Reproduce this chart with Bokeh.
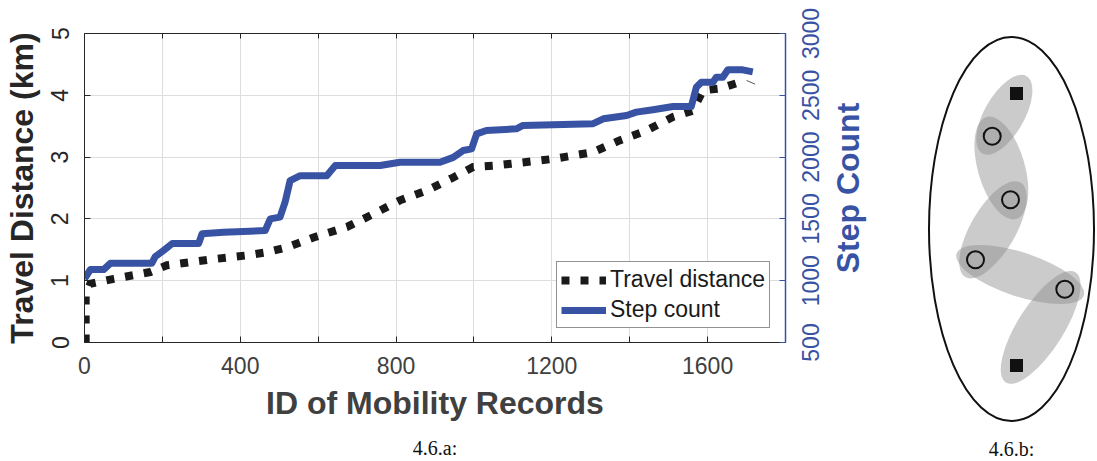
import math

from bokeh.core.properties import value
from bokeh.embed import file_html
from bokeh.layouts import column, row
from bokeh.models import (FixedTicker, Label, Legend, LegendItem, LinearAxis,
                          Range1d)
from bokeh.plotting import figure
from bokeh.resources import INLINE

# ---------------------------------------------------------------------------
# Cumulative travel distance (km) against the ID of the mobility record
dist_ids = [3, 3, 15, 75, 169, 212, 332, 417, 468, 520, 588, 674, 742, 810,
            879, 947, 998, 1050, 1203, 1306, 1374, 1443, 1511, 1562, 1588,
            1631, 1682, 1700]
dist_km = [0.0, 0.75, 0.95, 1.03, 1.14, 1.25, 1.35, 1.41, 1.46, 1.54, 1.70,
           1.87, 2.08, 2.30, 2.46, 2.67, 2.84, 2.86, 2.97, 3.08, 3.27, 3.43,
           3.65, 3.75, 4.08, 4.11, 4.21, 4.23]
# thin trailing piece of the distance trace
dist_tail_ids = [1700, 1722]
dist_tail_km = [4.24, 4.18]

# Cumulative step count against the ID of the mobility record
step_ids = [0, 15, 49, 67, 173, 182, 203, 225, 293, 302, 357, 464, 477, 502,
            515, 528, 554, 622, 644, 759, 810, 913, 947, 972, 994, 1007, 1032,
            1109, 1126, 1306, 1332, 1392, 1417, 1460, 1511, 1558, 1571, 1584,
            1614, 1622, 1639, 1652, 1690, 1716]
step_counts = [1015, 1090, 1090, 1142, 1142, 1196, 1244, 1300, 1300, 1380,
               1392, 1406, 1500, 1514, 1635, 1810, 1850, 1850, 1932, 1932,
               1958, 1958, 1998, 2053, 2067, 2188, 2215, 2229, 2256, 2270,
               2310, 2337, 2364, 2383, 2409, 2409, 2565, 2606, 2606, 2646,
               2646, 2706, 2706, 2690]

# Axes ticks
x_label_ticks = [0, 400, 800, 1200, 1600]
x_minor_ticks = [200, 600, 1000, 1400, 1800]
dist_ticks = [0, 1, 2, 3, 4, 5]
step_ticks = [500, 1000, 1500, 2000, 2500, 3000]
step_tick_labels = [str(v) for v in step_ticks]
step_title = "Step Count"

# Sketch on the right: stay points (circles) between two end points (squares)
node_x = [116.0, 91.7, 110.0, 75.0, 164.3, 116.0]
node_y = [368.0, 325.3, 261.7, 201.7, 172.3, 96.0]
node_kind = ["end", "stay", "stay", "stay", "stay", "end"]
link_width = [40, 47, 45, 44, 46]

FONT = "Liberation Sans"
SERIF = "Liberation Serif"
DARK = "#262626"
GREY = "#404040"
BLUE = "#3953a4"
TICK_PX = 23
TITLE_PX = 32

H = 461
CAPTION_H = 31
BORDER_TOP, BORDER_BOTTOM = 33, 119
FRAME_H = H - BORDER_TOP - BORDER_BOTTOM
BORDER_LEFT, BORDER_RIGHT = 84, 7
CHART_W = 792
STRIP_W = 900 - CHART_W

all_x_ticks = sorted(x_label_ticks + x_minor_ticks)


def blank_figure(width, height, x_range, y_range, **kw):
    f = figure(width=width, height=height, output_backend="svg",
               toolbar_location=None, x_range=x_range, y_range=y_range,
               x_axis_location=None, y_axis_location=None,
               outline_line_color=None, background_fill_color="white",
               border_fill_color="white", **kw)
    f.grid.visible = False
    return f


# ---------------------------------------------------------------------------
# main chart
p = figure(width=CHART_W, height=H - CAPTION_H, output_backend="svg",
           toolbar_location=None,
           x_range=Range1d(0, 1800), y_range=Range1d(0, 5),
           min_border_left=BORDER_LEFT, min_border_right=BORDER_RIGHT,
           min_border_top=BORDER_TOP,
           min_border_bottom=BORDER_BOTTOM - CAPTION_H,
           outline_line_color=None,
           background_fill_color="white", border_fill_color="white")
steps_range = Range1d(step_ticks[0], step_ticks[-1])
p.extra_y_ranges = {"steps": steps_range}

xa = p.xaxis[0]
xa.ticker = FixedTicker(ticks=x_label_ticks, minor_ticks=x_minor_ticks)
xa.major_tick_in = 6
xa.major_tick_out = 0
xa.minor_tick_in = 6
xa.minor_tick_out = 0
xa.axis_line_color = DARK
xa.major_tick_line_color = DARK
xa.minor_tick_line_color = DARK
xa.major_label_text_font = FONT
xa.major_label_text_font_size = f"{TICK_PX}px"
xa.major_label_text_color = GREY
xa.major_label_standoff = 14
xa.axis_label = "ID of Mobility Records"
xa.axis_label_text_font = FONT
xa.axis_label_text_font_size = f"{TITLE_PX}px"
xa.axis_label_text_font_style = "bold"
xa.axis_label_text_color = GREY
xa.axis_label_standoff = 8

ya = p.yaxis[0]
ya.ticker = FixedTicker(ticks=dist_ticks)
ya.minor_tick_line_color = None
ya.major_tick_in = 6
ya.major_tick_out = 0
ya.axis_line_color = DARK
ya.major_tick_line_color = DARK
ya.major_label_orientation = "vertical"
ya.major_label_text_font = FONT
ya.major_label_text_font_size = f"{TICK_PX}px"
ya.major_label_text_color = DARK
ya.major_label_standoff = 16
ya.axis_label = "Travel Distance (km)"
ya.axis_label_text_font = FONT
ya.axis_label_text_font_size = f"{TITLE_PX}px"
ya.axis_label_text_font_style = "bold"
ya.axis_label_text_color = DARK
ya.axis_label_standoff = 9

# top edge of the box, with inward ticks only
top = LinearAxis(ticker=FixedTicker(ticks=[], minor_ticks=all_x_ticks),
                 minor_tick_in=5, minor_tick_out=0, axis_line_color=DARK,
                 minor_tick_line_color=DARK, major_label_standoff=0)
p.add_layout(top, "above")

# right edge: blue axis line with inward ticks (labels drawn alongside)
ra = LinearAxis(y_range_name="steps",
                ticker=FixedTicker(ticks=[], minor_ticks=step_ticks),
                minor_tick_in=6, minor_tick_out=0, axis_line_color=BLUE,
                axis_line_width=1.5, minor_tick_line_color=BLUE,
                major_label_standoff=0)
p.add_layout(ra, "right")

p.xgrid.ticker = FixedTicker(ticks=all_x_ticks)
p.ygrid.ticker = FixedTicker(ticks=dist_ticks)
p.grid.grid_line_color = "#dddddd"
p.grid.grid_line_width = 1

r_dist = p.line(dist_ids, dist_km, line_color="#1a1a1a", line_width=8,
                line_dash="8 11", line_cap="butt", line_join="miter")
p.line(dist_tail_ids, dist_tail_km, line_color="#555555", line_width=1)
r_step = p.line(step_ids, step_counts, y_range_name="steps", line_color=BLUE,
                line_width=7, line_join="round")

legend = Legend(items=[LegendItem(label="Travel distance", renderers=[r_dist]),
                       LegendItem(label="Step count", renderers=[r_step])],
                location=(472, 14), orientation="vertical",
                label_text_font=FONT, label_text_font_size=f"{TICK_PX}px",
                label_text_color="#1a1a1a", glyph_width=45, glyph_height=26,
                label_height=26, label_standoff=4, spacing=3, padding=4,
                margin=0, border_line_color=DARK, border_line_width=1.5,
                background_fill_color="white", background_fill_alpha=1.0)
p.add_layout(legend, "center")

# caption under the chart
pc = blank_figure(CHART_W, CAPTION_H, Range1d(0, 1), Range1d(0, CAPTION_H),
                  min_border_left=BORDER_LEFT, min_border_right=BORDER_RIGHT,
                  min_border_top=0, min_border_bottom=0)
pc.add_layout(Label(x=0.5, y=CAPTION_H - 17.5, text="4.6.a:",
                    text_align="center", text_baseline="middle",
                    text_font=SERIF, text_font_size="20px",
                    text_color="#111111"))

# ---------------------------------------------------------------------------
# strip to the right of the chart: step-count tick labels and axis title,
# read bottom-to-top, on a scale that lines up with the "steps" range
px_per_step = FRAME_H / (steps_range.end - steps_range.start)
strip_range = Range1d(steps_range.start - BORDER_BOTTOM / px_per_step,
                      steps_range.end + BORDER_TOP / px_per_step)
pr = blank_figure(STRIP_W, H, Range1d(0, STRIP_W), strip_range, min_border=0)
label_mid = 809.5 - CHART_W      # centre line of the tick labels
title_mid = 847.5 - CHART_W      # centre line of the axis title
pr.text(x=[label_mid] * len(step_ticks), y=step_ticks, text=step_tick_labels,
        angle=math.pi / 2, text_align="center", text_baseline="alphabetic",
        text_font=value(FONT), text_font_size=f"{TICK_PX}px",
        text_color=BLUE)
pr.text(x=[title_mid], y=[(step_ticks[0] + step_ticks[-1]) / 2],
        text=[step_title], angle=math.pi / 2, text_align="center",
        text_baseline="alphabetic", text_font=value(FONT),
        text_font_size=f"{TITLE_PX}px", text_font_style="bold",
        text_color=BLUE)

# ---------------------------------------------------------------------------
# sketch of the stay points
p2 = blank_figure(197, H, Range1d(0, 197), Range1d(0, H), min_border=0)

# overall region
p2.ellipse(x=[111], y=[232.5], width=[165], height=[384], fill_color=None,
           line_color="#111111", line_width=2)

# shaded links between consecutive points
lx, ly, lw, lh, la = [], [], [], [], []
for i in range(len(node_x) - 1):
    dx = node_x[i + 1] - node_x[i]
    dy = node_y[i + 1] - node_y[i]
    lx.append((node_x[i] + node_x[i + 1]) / 2)
    ly.append((node_y[i] + node_y[i + 1]) / 2)
    lw.append(math.hypot(dx, dy) + 40)
    lh.append(link_width[i])
    la.append(math.atan2(dy, dx))
p2.ellipse(x=lx, y=ly, width=lw, height=lh, angle=la, fill_color="#8c8c8c",
           fill_alpha=0.45, line_color=None)

stay = [i for i, k in enumerate(node_kind) if k == "stay"]
ends = [i for i, k in enumerate(node_kind) if k == "end"]
p2.scatter([node_x[i] for i in stay], [node_y[i] for i in stay],
           marker="circle", size=17, fill_color=None, line_color="#111111",
           line_width=2)
p2.scatter([node_x[i] for i in ends], [node_y[i] for i in ends],
           marker="square", size=13, fill_color="#111111", line_color=None)

p2.add_layout(Label(x=111, y=13, text="4.6.b:", text_align="center",
                    text_baseline="middle", text_font=SERIF,
                    text_font_size="20px", text_color="#111111"))

layout = row(column(p, pc), column(pr), column(p2))
open("out.html", "w").write(file_html(layout, INLINE))
